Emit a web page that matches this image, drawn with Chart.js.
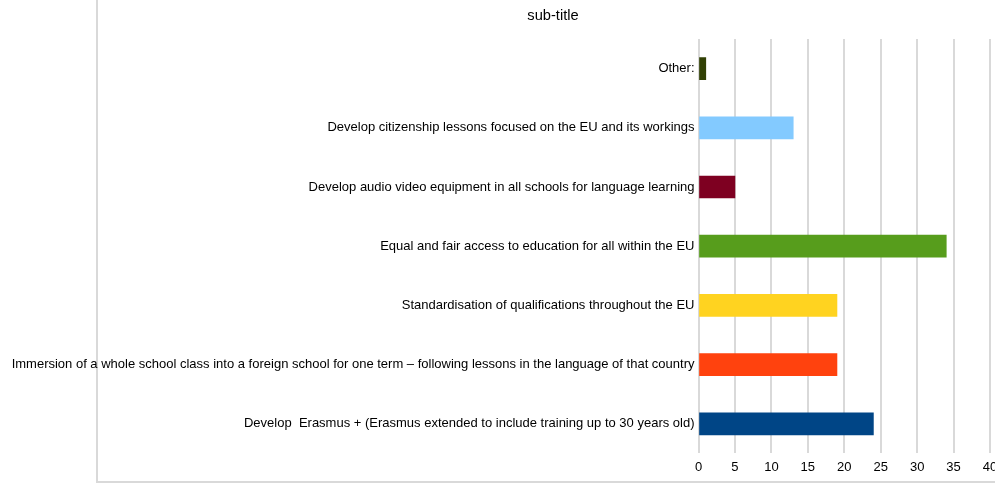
<!DOCTYPE html>
<html>
<head>
<meta charset="utf-8">
<script src="https://cdn.jsdelivr.net/npm/chart.js@4"></script>
<style>
  body { margin: 0; background: #fff; }
  #wrap { position: relative; width: 995px; height: 485px; overflow: hidden; }
  #frame { position: absolute; left: 96px; top: -4px; width: 897px; height: 485px;
           border-left: 2px solid #d9d9d9; border-bottom: 2px solid #d9d9d9; }
  #holder { position: absolute; left: 0; top: 0; width: 1008px; height: 485px; }
</style>
</head>
<body>
<div id="wrap">
  <div id="frame"></div>
  <div id="holder"><canvas id="myChart"></canvas></div>
</div>
<script>
const categories = [
    'Other:',
    'Develop citizenship lessons focused on the EU and its workings',
    'Develop audio video equipment in all schools for language learning',
    'Equal and fair access to education for all within the EU',
    'Standardisation of qualifications throughout the EU',
    'Immersion of a whole school class into a foreign school for one term \u2013 following lessons in the language of that country',
    'Develop  Erasmus + (Erasmus extended to include training up to 30 years old)'
];
const values = [1, 13, 5, 34, 19, 19, 24];
const barColors = ['#314004', '#83caff', '#7e0021', '#579d1c', '#ffd320', '#ff420e', '#004586'];
const xTicks = [0, 5, 10, 15, 20, 25, 30, 35, 40];

Chart.defaults.font.family = '"Liberation Sans", Arial, sans-serif';
Chart.defaults.color = '#000';

// centre the title over the framed area rather than the whole canvas
const titleSpan = {
    id: 'titleSpan',
    afterLayout(chart) {
        if (chart.titleBlock) {
            chart.titleBlock.left = 111;
            chart.titleBlock.right = 995;
        }
    }
};

const data = {
    labels: categories,
    datasets: [{
        data: values,
        backgroundColor: barColors,
        borderWidth: 0,
        barThickness: 22
    }]
};

const config = {
    type: 'bar',
    data: data,
    options: {
        indexAxis: 'y',
        responsive: false,
        animation: false,
        layout: { padding: { left: 0, right: 18, top: 0, bottom: 4 } },
        plugins: {
            legend: { display: false },
            tooltip: { enabled: false },
            title: {
                display: true,
                text: 'sub-title',
                font: { size: 14.67, weight: 'normal' },
                color: '#000',
                padding: { top: 7, bottom: 14.4 }
            }
        },
        scales: {
            x: {
                min: 0,
                max: 40,
                afterBuildTicks: function (scale) {
                    scale.ticks = xTicks.map(v => ({ value: v }));
                },
                grid: { color: '#d9d9d9', lineWidth: 2, drawTicks: false },
                border: { display: false },
                ticks: { font: { size: 13 }, padding: 6, maxRotation: 0 }
            },
            y: {
                afterFit: function (scale) { scale.width = 698.5; },
                grid: { display: false, drawTicks: false },
                border: { display: false },
                ticks: { font: { size: 13 }, padding: 4, autoSkip: false }
            }
        }
    },
    plugins: [titleSpan]
};

const canvas = document.getElementById('myChart');
canvas.width = 1008;
canvas.height = 485;
let myChart = new Chart(canvas, config);
</script>
</body>
</html>
